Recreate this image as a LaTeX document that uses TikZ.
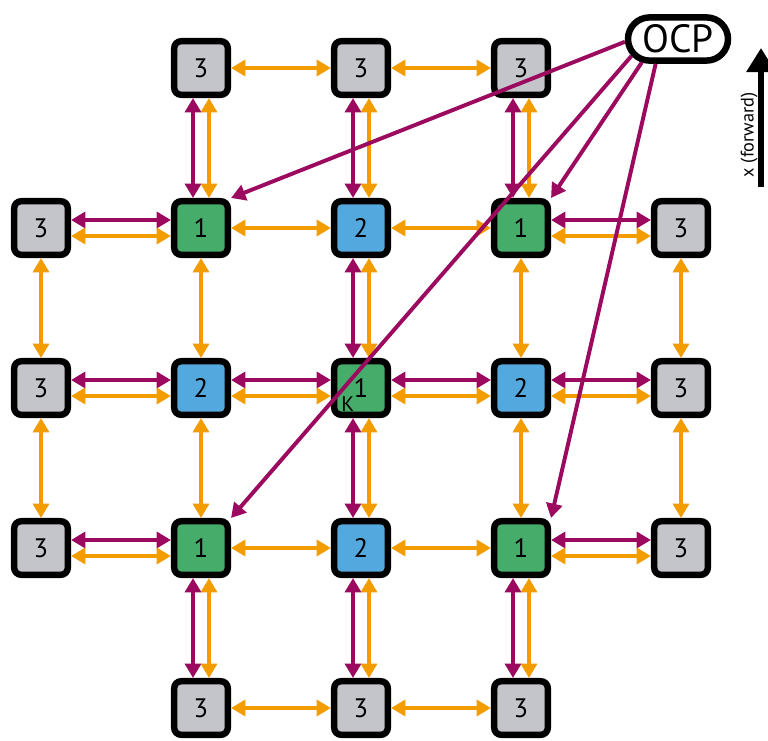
\documentclass[tikz,border=0pt]{standalone}
\usepackage{fontspec}
\setmainfont{PT Sans}
\usetikzlibrary{arrows.meta,shapes.misc}

\definecolor{gris}{HTML}{C4C5CA}
\definecolor{verde}{HTML}{46AC6A}
\definecolor{azul}{HTML}{53A9DD}
\definecolor{morado}{HTML}{9B0A5F}
\definecolor{naranja}{HTML}{F29C00}

% par de enlaces: morado arriba/izquierda, naranja abajo/derecha
\newcommand{\dobleh}[2]{%
	\draw[mor] ([yshift=0.2cm]#1.east) -- ([yshift=0.2cm]#2.west);
	\draw[nar] ([yshift=-0.2cm]#1.east) -- ([yshift=-0.2cm]#2.west);}
\newcommand{\doblev}[2]{%
	\draw[mor] ([xshift=-0.2cm]#1.south) -- ([xshift=-0.2cm]#2.north);
	\draw[nar] ([xshift=0.2cm]#1.south) -- ([xshift=0.2cm]#2.north);}

\begin{document}
\begin{tikzpicture}[
		caja/.style={draw, line width=4.6pt, rounded corners=5pt, minimum size=1.34cm, inner sep=0pt, font=\fontsize{19}{22}\selectfont},
		c1/.style={caja, fill=verde},
		c2/.style={caja, fill=azul},
		c3/.style={caja, fill=gris},
		flecha/.style={line width=2.8pt, >={Triangle[length=0.36cm,width=0.4cm]}, <->},
		nar/.style={flecha, draw=naranja},
		mor/.style={flecha, draw=morado}]
		\useasboundingbox (-1.025,1.7) rectangle (18.175,-16.8);
		
		% Nodos
		\node[c3] (n01) at (4,0) {3};
		\node[c3] (n02) at (8,0) {3};
		\node[c3] (n03) at (12,0) {3};
		
		\node[c3] (n10) at (0,-4) {3};
		\node[c1] (n11) at (4,-4) {1};
		\node[c2] (n12) at (8,-4) {2};
		\node[c1] (n13) at (12,-4) {1};
		\node[c3] (n14) at (16,-4) {3};
		
		\node[c3] (n20) at (0,-8) {3};
		\node[c2] (n21) at (4,-8) {2};
		\node[c1] (n22) at (8,-8) {1};
		\node[c2] (n23) at (12,-8) {2};
		\node[c3] (n24) at (16,-8) {3};
		\node[font=\fontsize{15}{18}\selectfont] (k) at ([shift={(-0.33,-0.4)}]n22.center) {K};
		
		\node[c3] (n30) at (0,-12) {3};
		\node[c1] (n31) at (4,-12) {1};
		\node[c2] (n32) at (8,-12) {2};
		\node[c1] (n33) at (12,-12) {1};
		\node[c3] (n34) at (16,-12) {3};
		
		\node[c3] (n41) at (4,-16) {3};
		\node[c3] (n42) at (8,-16) {3};
		\node[c3] (n43) at (12,-16) {3};
		
		% Enlaces horizontales
		\draw[nar] (n01) -- (n02);
		\draw[nar] (n02) -- (n03);
		\dobleh{n10}{n11}
		\draw[nar] (n11) -- (n12);
		\draw[nar] (n12) -- (n13);
		\dobleh{n13}{n14}
		\dobleh{n20}{n21}
		\dobleh{n21}{n22}
		\dobleh{n22}{n23}
		\dobleh{n23}{n24}
		\dobleh{n30}{n31}
		\draw[nar] (n31) -- (n32);
		\draw[nar] (n32) -- (n33);
		\dobleh{n33}{n34}
		\draw[nar] (n41) -- (n42);
		\draw[nar] (n42) -- (n43);
		
		% Enlaces verticales
		\doblev{n01}{n11}
		\doblev{n02}{n12}
		\doblev{n03}{n13}
		\draw[nar] (n10) -- (n20);
		\draw[nar] (n11) -- (n21);
		\doblev{n12}{n22}
		\draw[nar] (n13) -- (n23);
		\draw[nar] (n14) -- (n24);
		\draw[nar] (n20) -- (n30);
		\draw[nar] (n21) -- (n31);
		\doblev{n22}{n32}
		\draw[nar] (n23) -- (n33);
		\draw[nar] (n24) -- (n34);
		\doblev{n31}{n41}
		\doblev{n32}{n42}
		\doblev{n33}{n43}
		
		% OCP
		\node[draw, rounded rectangle, line width=4.6pt, minimum width=2.5cm, minimum height=1.08cm, inner sep=0pt, font=\fontsize{28}{32}\selectfont] (ocp) at (15.925,0.725) {OCP};
		\draw[mor, ->] (ocp.183) -- (n11.north east);
		\draw[mor, ->] (ocp.200) -- (n31.north east);
		\draw[mor, ->] (ocp.213) -- (n13.north east);
		\draw[mor, ->] (ocp.228) -- (n33.north east);
		
		% Eje x
		\coordinate (xbase) at (18.0,-2.975);
		\coordinate (xtip) at (18.0,0.5);
		\draw[line width=4.2pt, -{Triangle[length=0.6cm,width=0.7cm]}] (xbase) -- (xtip);
		\node[rotate=90, font=\fontsize{13}{15}\selectfont] (xlab) at (17.7,-1.675) {x (forward)};
	\end{tikzpicture}
\end{document}
